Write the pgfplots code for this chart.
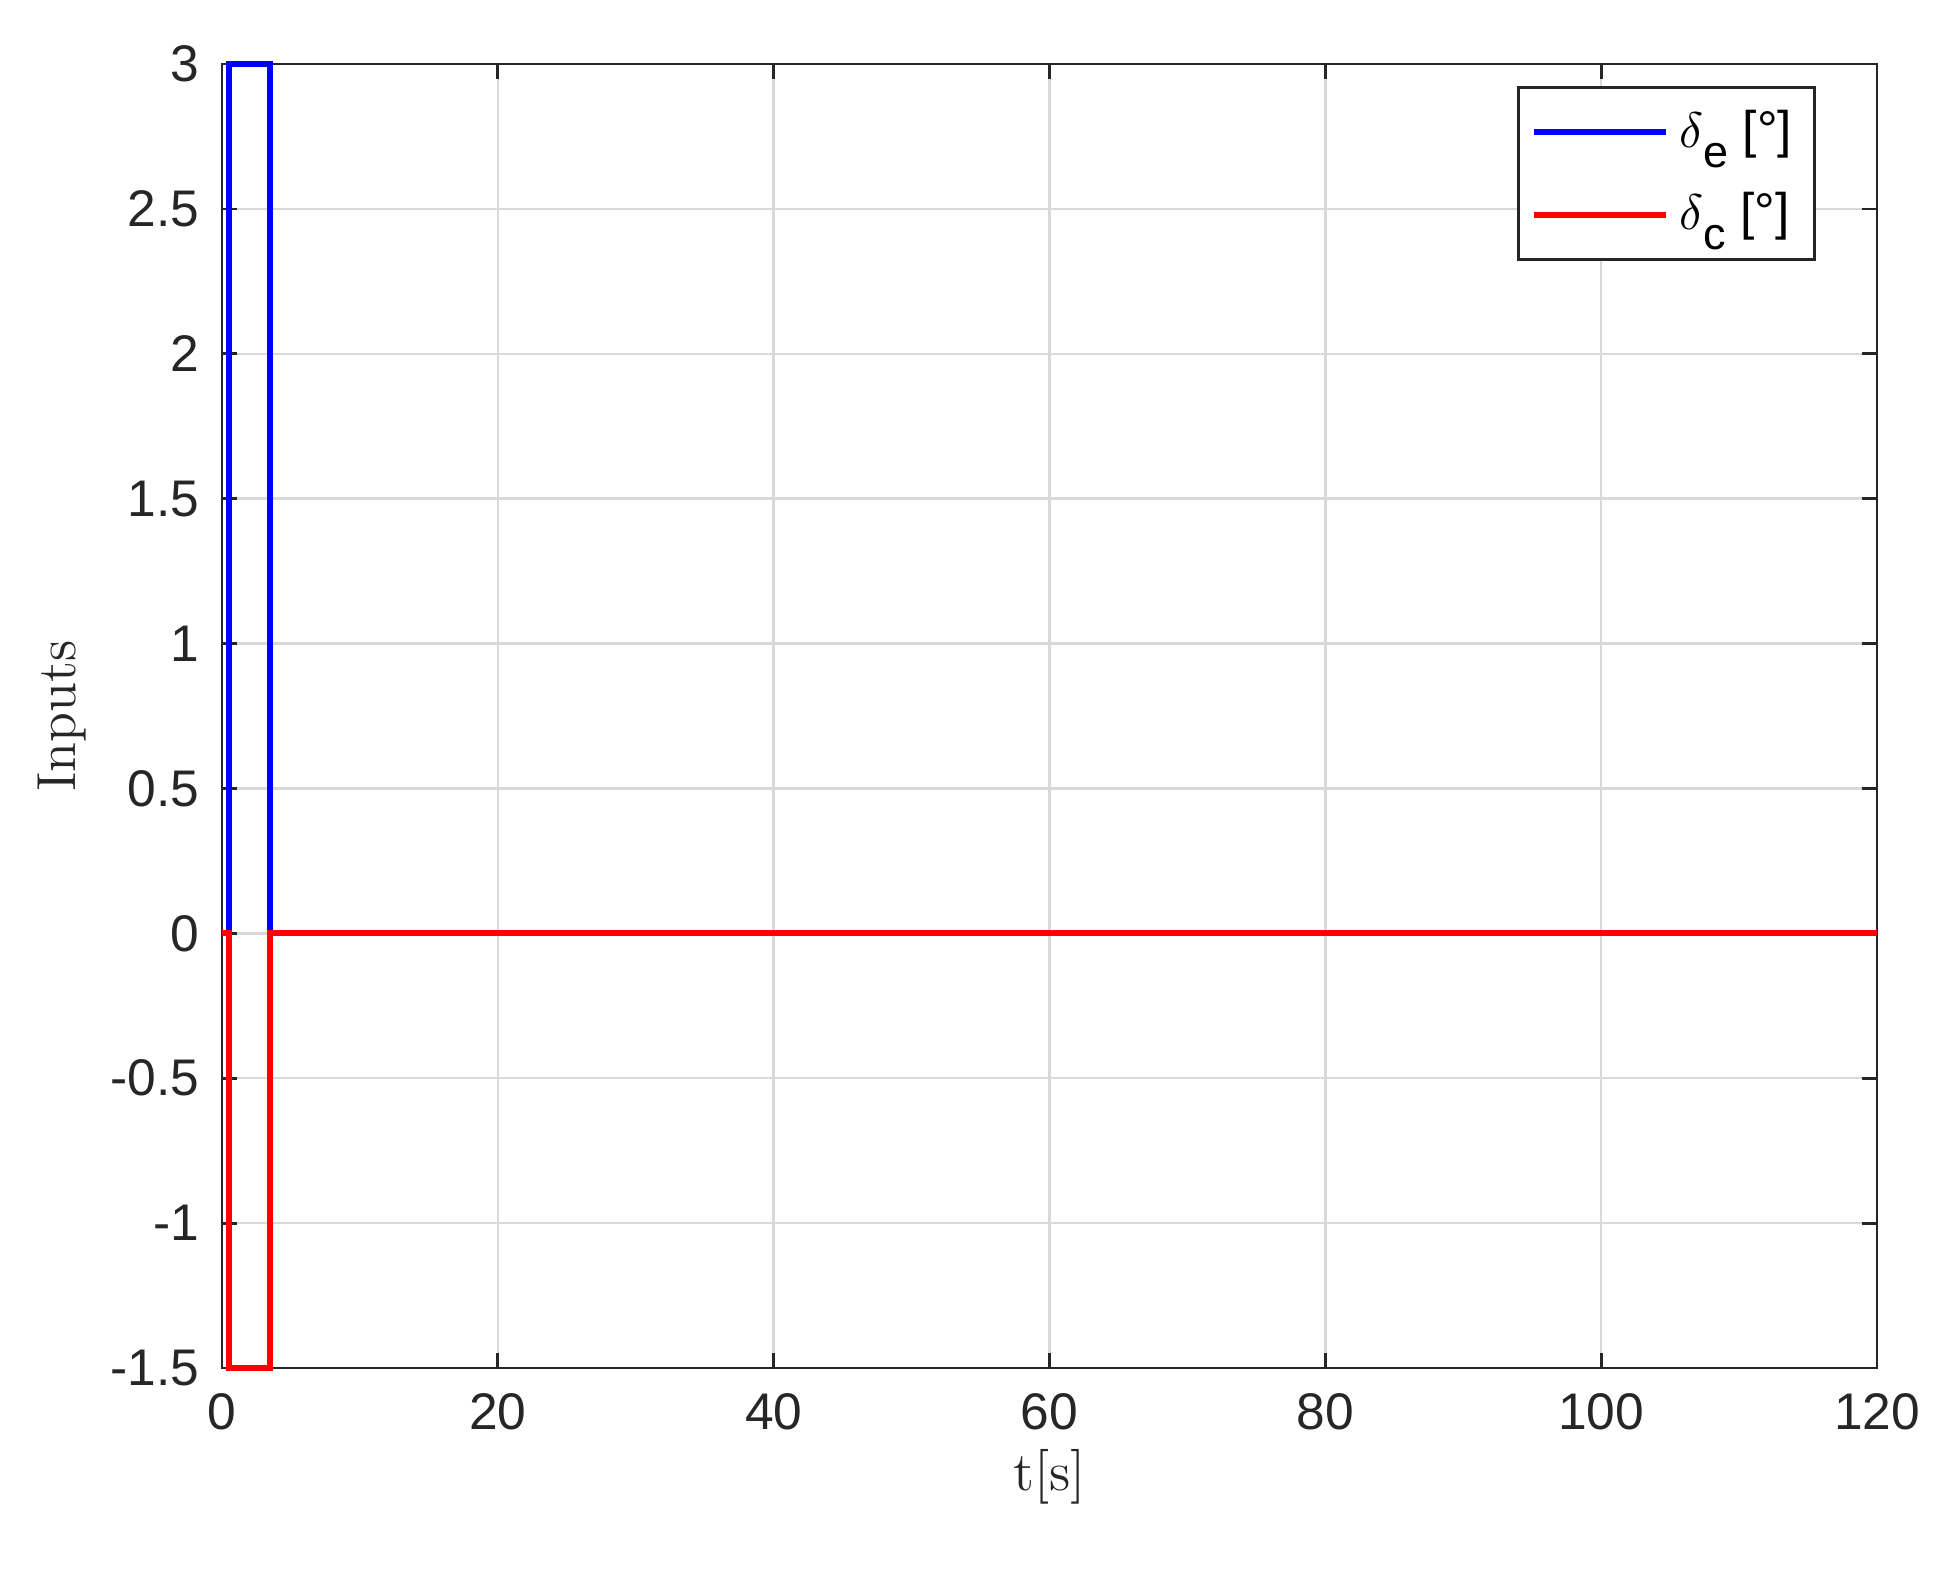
\documentclass[border=0pt]{standalone}
\usepackage{pgfplots}
\pgfplotsset{compat=1.18}
\usepackage{fontspec}
\newfontfamily\hv{Liberation Sans}

\definecolor{mblue}{RGB}{0,0,255}
\definecolor{mred}{RGB}{255,0,0}

\newcommand{\lsub}[1]{\raisebox{-4pt}{\fontsize{9}{10}\selectfont #1}}

\begin{document}
\begin{tikzpicture}
\begin{axis}[
    at={(0,0)}, anchor=south west,
    scale only axis,
    width=331pt, height=260.8pt,
    xmin=0, xmax=120, ymin=-1.5, ymax=3,
    xtick={0,20,...,120},
    ytick={-1.5,-1,...,3},
    grid=major,
    grid style={gray!30, line width=0.5pt},
    axis line style={black!85, line width=0.55pt},
    tick style={black!85, line width=0.55pt},
    tick align=inside,
    major tick length=3pt,
    clip=false,
    /pgf/number format/assume math mode=true,
    /pgf/number format/fixed,
    ticklabel style={font=\hv\fontsize{10.3}{12}\selectfont, text=black!85},
    xticklabel style={yshift=-1.5pt},
    yticklabel style={xshift=-1pt},
    xlabel={t$[$s$]$},
    ylabel={Inputs},
    label style={font=\fontsize{11}{13}\selectfont, text=black!85},
    xlabel style={yshift=3pt},
    ylabel style={yshift=-2pt},
    legend style={at={(0.963,0.983)}, anchor=north east,
        draw=black!85, line width=0.55pt, fill=white,
        font=\hv\fontsize{10.3}{12}\selectfont,
        inner xsep=2.5pt, inner ysep=2.5pt, row sep=3.5pt,
        nodes={inner xsep=2pt}},
    legend cell align=left,
    legend image code/.code={\draw[#1] (0pt,0pt) -- (26.5pt,0pt);},
]
\addplot[mblue, line width=1.2pt] coordinates {
    (0,0) (0.5,0) (0.5,3) (3.5,3) (3.5,0) (120,0)};
\addlegendentry{$\delta$\lsub{e} [°]}
\addplot[mred, line width=1.2pt] coordinates {
    (0,0) (0.5,0) (0.5,-1.5) (3.5,-1.5) (3.5,0) (120,0)};
\addlegendentry{$\delta$\lsub{c} [°]}
\end{axis}
\pgfresetboundingbox
\path (-44.4pt,-40.6pt) rectangle (346.2pt,273.6pt);
\end{tikzpicture}
\end{document}
